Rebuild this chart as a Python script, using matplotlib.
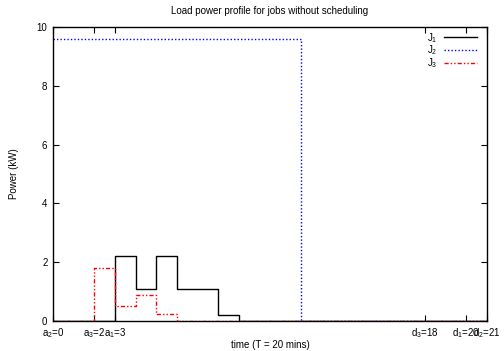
import matplotlib
matplotlib.use('Agg')
import matplotlib.pyplot as plt
from matplotlib import rcParams

rcParams['font.family'] = ['Liberation Sans', 'DejaVu Sans']
rcParams['font.size'] = 7
rcParams['mathtext.fontset'] = 'custom'
rcParams['mathtext.rm'] = 'Liberation Sans'
rcParams['mathtext.it'] = 'Liberation Sans'

# step profiles (time in slots, power in kW)
j1_t = [0, 3, 4, 5, 6, 8, 9, 21]
j1_p = [0, 2.2, 1.1, 2.2, 1.1, 0.2, 0, 0]
j2_t = [0, 12, 21]
j2_p = [9.6, 0, 0]
j3_t = [0, 2, 3, 4, 5, 6, 21]
j3_p = [0, 1.8, 0.5, 0.9, 0.25, 0, 0]

tick_pos = [0, 2, 3, 18, 20, 21]
tick_labels = ['a$_2$=0', 'a$_3$=2', 'a$_1$=3', 'd$_3$=18', 'd$_1$=20', 'd$_2$=21']

fig = plt.figure(figsize=(5.04, 3.51), dpi=100)
ax = fig.add_axes([53/504, 30/351, 434/504, 294/351])

ax.plot(j1_t, j1_p, drawstyle='steps-post', color='black', lw=1.0, label='J$_1$')
ax.plot(j2_t, j2_p, drawstyle='steps-post', color='#0000ff', lw=1.0,
	dashes=(1, 1.5), label='J$_2$')
ax.plot(j3_t, j3_p, drawstyle='steps-post', color='#ff0000', lw=1.0,
	dashes=(3, 1.5, 1, 1.5, 1, 1.5), label='J$_3$')

ax.set_xlim(0, 21)
ax.set_ylim(0, 10)
ax.set_xticks(tick_pos)
ax.set_xticklabels(tick_labels)
ax.set_yticks([0, 2, 4, 6, 8, 10])
ax.tick_params(direction='in', top=True, right=True, length=4, width=0.8, pad=4)
for s in ax.spines.values():
	s.set_linewidth(1.0)

ax.set_xlabel('time (T = 20 mins)', labelpad=0)
ax.set_ylabel('Power (kW)', labelpad=13)
ax.set_title('Load power profile for jobs without scheduling', fontsize=7, pad=9)

ax.legend(loc='upper right', bbox_to_anchor=(0.987, 1.0), frameon=False,
	markerfirst=False, handlelength=3.4, labelspacing=-0.12, borderaxespad=0.0,
	handletextpad=0.7)

fig.savefig('out.png', dpi=100)
